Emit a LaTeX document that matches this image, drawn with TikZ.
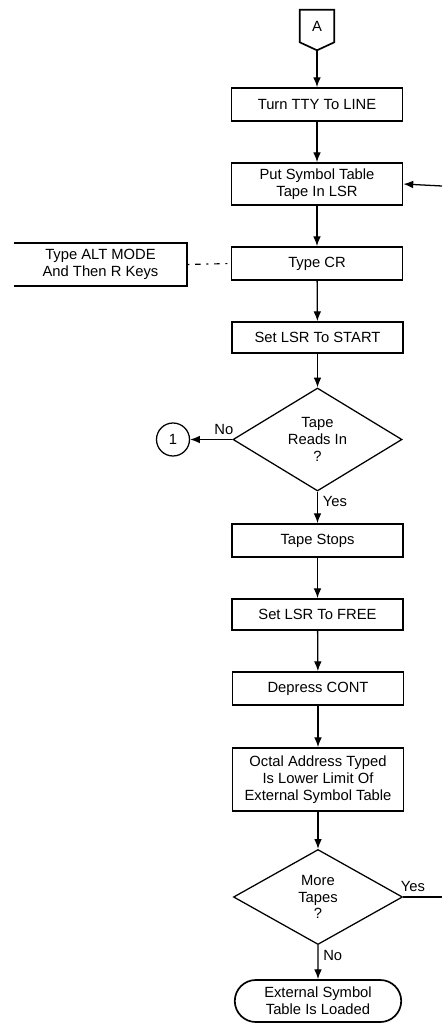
\documentclass[tikz,border=0pt]{standalone}
\usepackage{fontspec}
\setmainfont{Liberation Sans}
\usetikzlibrary{arrows.meta,shapes.geometric,shapes.misc}

\begin{document}
\begin{tikzpicture}[x=0.025cm,y=-0.025cm,>={Latex[length=7pt,width=5.5pt]},
    txt/.style={font=\fontsize{10.5}{12}\selectfont},
    box/.style={txt,draw,line width=1.2pt,align=center,minimum width=4.275cm,inner sep=2pt},
    dec/.style={txt,draw,diamond,line width=0.9pt,align=center,inner sep=0pt,minimum width=4.225cm,minimum height=2.375cm},
    flow/.style={->,line width=0.9pt}]
    \useasboundingbox (0,0) rectangle (442,1024);
    \node[txt,minimum width=0.85cm,minimum height=0.8cm,inner sep=0pt] (A) at (317,26) {A};
    \draw[line width=1.2pt] (A.north west) -- (A.north east) -- (A.south east) -- ([yshift=-0.2cm]A.south) -- (A.south west) -- cycle;
    \coordinate (Atip) at ([yshift=-0.2cm]A.south);
    \node[box,minimum height=0.825cm] (tty) at (317,104.5) {Turn TTY To LINE};
    \node[box,minimum height=1.05cm] (put) at (317,184) {Put Symbol Table\\Tape In LSR};
    \node[box,minimum height=0.825cm] (cr) at (317,263.5) {Type CR};
    \node[txt,align=center,minimum width=4.325cm,minimum height=1.075cm,inner sep=2pt] (alt) at (100.5,264.5) {Type ALT MODE\\And Then R Keys};
    \draw[line width=1.2pt] (alt.north west) -- (alt.north east) -- (alt.south east) -- (alt.south west);
    \node[box,minimum height=0.775cm] (start) at (317.5,337.5) {Set LSR To START};
    \node[dec] (reads) at (317.5,439.5) {Tape\\Reads In\\?};
    \node[txt,draw,circle,line width=0.9pt,minimum size=0.825cm,inner sep=0pt] (one) at (173,439.5) {1};
    \node[box,minimum height=0.825cm] (stops) at (317.5,540.5) {Tape Stops};
    \node[box,minimum height=0.775cm] (free) at (317.5,614.5) {Set LSR To FREE};
    \node[box,minimum height=0.825cm] (cont) at (318,688.5) {Depress CONT};
    \node[box,minimum height=1.575cm] (octal) at (318,779.5) {Octal Address Typed\\Is Lower Limit Of\\External Symbol Table};
    \node[dec] (more) at (318,897) {More\\Tapes\\?};
    \node[txt,draw,rounded rectangle,line width=1.2pt,align=center,minimum width=4.3cm,minimum height=1.05cm,inner sep=2pt] (loaded) at (318,1001) {External Symbol\\Table Is Loaded};
    \coordinate (yesout) at (442,897);
    \coordinate (backin) at (442,186);
    % main line
    \draw[flow] (Atip) -- (tty);
    \draw[flow] (tty) -- (put);
    \draw[flow] (put) -- (cr);
    \draw[flow] (cr) -- (start);
    \draw[flow] (start) -- (reads);
    \draw[flow] (reads) -- node[txt,right,pos=0.3] {Yes} (stops);
    \draw[flow] (reads) -- node[txt,above,pos=0.2] {No} (one);
    \draw[flow] (stops) -- (free);
    \draw[flow] (free) -- (cont);
    \draw[flow] (cont) -- (octal);
    \draw[flow] (octal) -- (more);
    \draw[flow] (more) -- node[txt,right,pos=0.3] {No} (loaded);
    \draw[line width=0.9pt] (more.east) -- node[txt,above,pos=0.25] {Yes} (yesout);
    \draw[flow] (backin) -- (put.east);
    \draw[line width=0.8pt,dash pattern=on 1.5pt off 4pt on 4pt off 4pt] (alt.east) -- (cr.west);
\end{tikzpicture}
\end{document}
